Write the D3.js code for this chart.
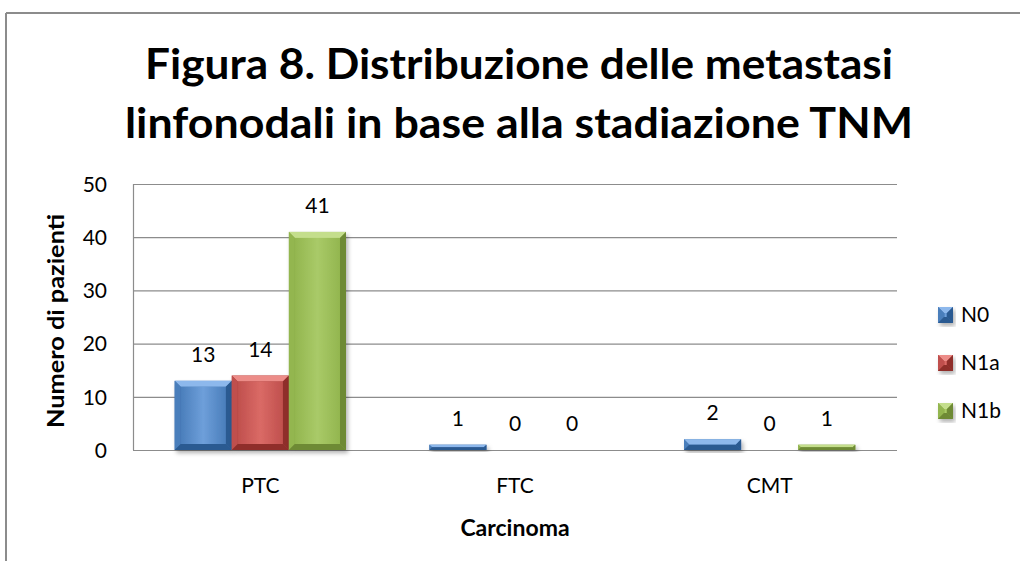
<!DOCTYPE html>
<html>
<head>
<meta charset="utf-8">
<script src="https://cdn.jsdelivr.net/npm/d3@7"></script>
<style>
  body { margin: 0; background: #fff; }
  svg { font-family: Lato, "Open Sans", sans-serif; }
</style>
</head>
<body>
<svg id="chart" width="1020" height="561"></svg>
<script>
const categories = ['PTC', 'FTC', 'CMT'];
const seriesNames = ['N0', 'N1a', 'N1b'];
const n0Values = [13, 1, 2];
const n1aValues = [14, 0, 0];
const n1bValues = [41, 0, 1];
const yTicks = [0, 10, 20, 30, 40, 50];

const seriesValues = [n0Values, n1aValues, n1bValues];
const colors = {
    N0:  { base: '#4A7EBB', light: '#6E9FDA', top: '#8DB8EC', dark: '#2C5A91', edge: '#3A6BA8' },
    N1a: { base: '#C0504D', light: '#DA6A66', top: '#EC8C88', dark: '#8F2E2B', edge: '#A63C39' },
    N1b: { base: '#93B64F', light: '#A9CA68', top: '#C4DE8C', dark: '#6E8A34', edge: '#82A244' }
};

const svg = d3.select('#chart');
const plot = { left: 133, right: 897, top: 184, bottom: 450 };

// outer frame (only top and left edges visible)
svg.append('line').attr('x1', 6).attr('x2', 1020).attr('y1', 13).attr('y2', 13)
    .attr('stroke', '#8c8c8c').attr('stroke-width', 2);
svg.append('line').attr('x1', 6).attr('x2', 6).attr('y1', 13).attr('y2', 561)
    .attr('stroke', '#8c8c8c').attr('stroke-width', 2);

// title
const titleLines = ['Figura 8. Distribuzione delle metastasi', 'linfonodali in base alla stadiazione TNM'];
const titleY = [79, 138];
const titleW = [748, 788];
titleLines.forEach((t, i) => {
    svg.append('text')
        .attr('x', 519).attr('y', titleY[i])
        .attr('text-anchor', 'middle')
        .attr('font-size', 42).attr('font-weight', 'bold').attr('fill', '#000')
        .attr('textLength', titleW[i]).attr('lengthAdjust', 'spacingAndGlyphs')
        .text(t);
});

const x = d3.scaleBand().domain(categories).range([plot.left, plot.right]).paddingInner(0).paddingOuter(0);
const inner = d3.scaleBand().domain(seriesNames).range([0, x.bandwidth()]).paddingOuter(0.73).paddingInner(0);
const y = d3.scaleLinear().domain([0, 50]).range([plot.bottom, plot.top]);

// gridlines
svg.append('g').selectAll('line').data(yTicks).join('line')
    .attr('x1', plot.left).attr('x2', plot.right)
    .attr('y1', d => y(d) + 0.5).attr('y2', d => y(d) + 0.5)
    .attr('stroke', '#8c8c8c').attr('stroke-width', 1.2);
svg.append('line').attr('x1', plot.left + 0.5).attr('x2', plot.left + 0.5)
    .attr('y1', plot.top).attr('y2', plot.bottom)
    .attr('stroke', '#8c8c8c').attr('stroke-width', 1.2);

// y axis labels
const yAxis = d3.axisLeft(y).tickValues(yTicks).tickSize(0).tickPadding(26);
const yg = svg.append('g').attr('transform', `translate(${plot.left},0)`).call(yAxis);
yg.select('.domain').remove();
yg.selectAll('text').attr('font-size', 21).attr('font-family', 'Lato, sans-serif').attr('fill', '#000').attr('dy', '0.35em');

// x axis labels
const xAxis = d3.axisBottom(x).tickSize(0).tickPadding(28);
const xg = svg.append('g').attr('transform', `translate(0,${plot.bottom})`).call(xAxis);
xg.select('.domain').remove();
xg.selectAll('text').attr('font-size', 21).attr('font-family', 'Lato, sans-serif').attr('fill', '#000');

// axis titles
svg.append('text').attr('x', 515).attr('y', 536).attr('text-anchor', 'middle')
    .attr('font-size', 23).attr('font-weight', 'bold').text('Carcinoma');
svg.append('text').attr('transform', 'translate(64,321) rotate(-90)').attr('text-anchor', 'middle')
    .attr('font-size', 23).attr('font-weight', 'bold')
    .attr('textLength', 214).attr('lengthAdjust', 'spacingAndGlyphs')
    .text('Numero di pazienti');

// gradients and shadow
const defs = svg.append('defs');
seriesNames.forEach(s => {
    const g = defs.append('linearGradient').attr('id', 'grad-' + s)
        .attr('x1', '0').attr('x2', '1').attr('y1', '0').attr('y2', '0');
    g.append('stop').attr('offset', '0%').attr('stop-color', colors[s].base);
    g.append('stop').attr('offset', '50%').attr('stop-color', colors[s].light);
    g.append('stop').attr('offset', '100%').attr('stop-color', colors[s].base);
});
const f = defs.append('filter').attr('id', 'shadow').attr('x', '-20%').attr('y', '-20%').attr('width', '140%').attr('height', '140%');
f.append('feDropShadow').attr('dx', 2).attr('dy', 3).attr('stdDeviation', 2).attr('flood-color', '#000').attr('flood-opacity', 0.3);

// bevelled bar
function drawBar(g, x0, y0, w, h, s) {
    const c = colors[s];
    const b = Math.min(6, h / 2, w / 2);
    const bar = g.append('g').attr('filter', 'url(#shadow)');
    bar.append('rect').attr('x', x0).attr('y', y0).attr('width', w).attr('height', h).attr('fill', c.edge);
    const pts = (arr) => arr.map(p => p.join(',')).join(' ');
    bar.append('polygon').attr('points', pts([[x0, y0], [x0 + w, y0], [x0 + w - b, y0 + b], [x0 + b, y0 + b]])).attr('fill', c.top);
    bar.append('polygon').attr('points', pts([[x0, y0], [x0 + b, y0 + b], [x0 + b, y0 + h - b], [x0, y0 + h]])).attr('fill', c.base);
    bar.append('polygon').attr('points', pts([[x0 + w, y0], [x0 + w - b, y0 + b], [x0 + w - b, y0 + h - b], [x0 + w, y0 + h]])).attr('fill', c.dark);
    bar.append('polygon').attr('points', pts([[x0, y0 + h], [x0 + b, y0 + h - b], [x0 + w - b, y0 + h - b], [x0 + w, y0 + h]])).attr('fill', c.dark);
    if (h > 2 * b) {
        bar.append('rect').attr('x', x0 + b).attr('y', y0 + b).attr('width', w - 2 * b).attr('height', h - 2 * b)
            .attr('fill', `url(#grad-${s})`);
    }
}

const barsG = svg.append('g');
const labelsG = svg.append('g');
categories.forEach((cat, ci) => {
    seriesNames.forEach((s, si) => {
        const v = seriesValues[si][ci];
        const bx = x(cat) + inner(s);
        const bw = inner.bandwidth();
        if (v > 0) drawBar(barsG, bx, y(v), bw, y(0) - y(v), s);
        labelsG.append('text')
            .attr('x', bx + bw / 2).attr('y', y(v) - 19)
            .attr('text-anchor', 'middle').attr('font-size', 21).attr('fill', '#000')
            .text(v);
    });
});

// legend
const legend = svg.append('g');
const legendY = [315, 363, 411];
seriesNames.forEach((s, i) => {
    const lg = legend.append('g');
    drawBar(lg, 938, legendY[i] - 8, 15, 16, s);
    lg.append('text').attr('x', 961).attr('y', legendY[i]).attr('dy', '0.35em')
        .attr('font-size', 21).attr('fill', '#000').text(s);
});
</script>
</body>
</html>
